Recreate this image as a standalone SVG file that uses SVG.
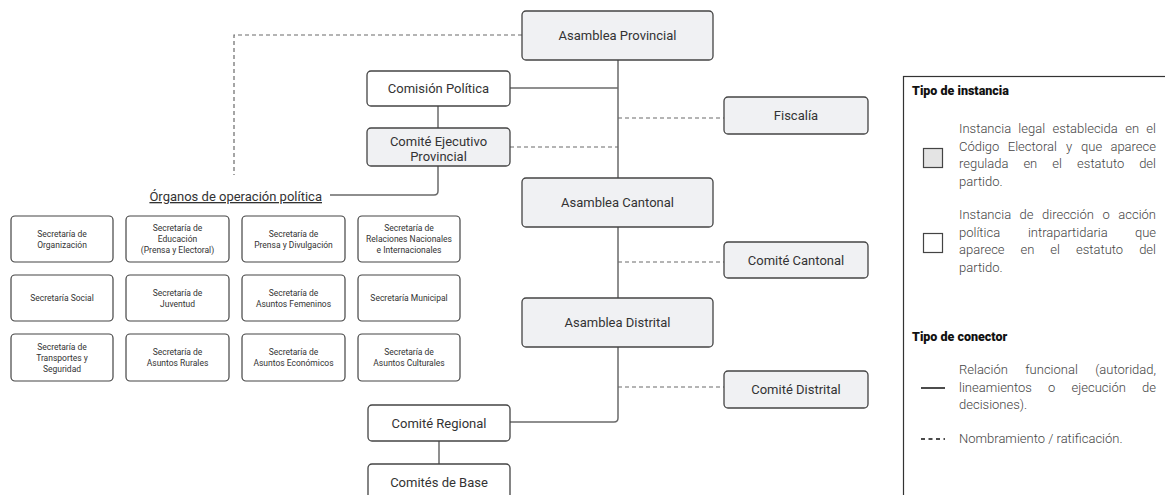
<svg xmlns="http://www.w3.org/2000/svg" width="1165" height="495" viewBox="0 0 1165 495">
<style>
.n rect{stroke:#444;stroke-width:1.3}
.g rect{fill:#f0f1f3}
.w rect{fill:#ffffff}
.n text{font-family:Roboto,"Liberation Sans",sans-serif;font-size:13px;fill:#333;text-anchor:middle}
.s rect{fill:#fff;stroke:#444;stroke-width:1.2}
.s text{font-family:Roboto,"Liberation Sans",sans-serif;font-size:8.5px;fill:#333;text-anchor:middle}
.c path{fill:none;stroke:#6a6a6a;stroke-width:1.5}
.c .d{stroke-dasharray:4 3;stroke-width:1.2}
.lg text{font-family:Roboto,"Liberation Sans",sans-serif;font-size:13px;font-weight:300;fill:#444}
.lg .h{font-weight:900;font-size:12.5px;fill:#111}
.lg .e{text-anchor:end}
.lbl{font-family:Roboto,"Liberation Sans",sans-serif;font-size:13px;fill:#333;text-anchor:end;text-decoration:underline}
</style>
<rect width="1165" height="495" fill="#fff"/>
<g id="connectors" class="c">
<path d="M618 60V178M618 227V298M618 347V418Q618 422 614 422H510"/>
<path d="M510 88H618"/>
<path d="M438 106V128"/>
<path d="M438 166V191Q438 195 434 195H330"/>
<path d="M439 441V464"/>
<path class="d" d="M618 118H724"/>
<path class="d" d="M510 147H618"/>
<path class="d" d="M618 262H724"/>
<path class="d" d="M618 387H724"/>
<path class="d" d="M522 35H234V175"/>
</g>
<g id="asamblea-provincial" class="n g"><rect x="522" y="11" width="191" height="49" rx="4"/><text x="617.5" y="40">Asamblea Provincial</text></g>
<g id="comision-politica" class="n w"><rect x="367" y="71" width="143" height="35" rx="4"/><text x="438.5" y="93">Comisión Política</text></g>
<g id="comite-ejecutivo" class="n g"><rect x="367" y="128" width="143" height="38" rx="4"/><text x="438.5" y="146">Comité Ejecutivo</text><text x="438.5" y="161">Provincial</text></g>
<g id="fiscalia" class="n g"><rect x="724" y="97" width="144" height="37" rx="4"/><text x="796" y="120">Fiscalía</text></g>
<g id="asamblea-cantonal" class="n g"><rect x="522" y="178" width="191" height="49" rx="4"/><text x="617.5" y="207">Asamblea Cantonal</text></g>
<g id="comite-cantonal" class="n g"><rect x="724" y="242" width="144" height="36" rx="4"/><text x="796" y="264.5">Comité Cantonal</text></g>
<g id="asamblea-distrital" class="n g"><rect x="522" y="298" width="191" height="49" rx="4"/><text x="617.5" y="327">Asamblea Distrital</text></g>
<g id="comite-distrital" class="n g"><rect x="724" y="371" width="144" height="37" rx="4"/><text x="796" y="394">Comité Distrital</text></g>
<g id="comite-regional" class="n w"><rect x="368" y="405" width="142" height="36" rx="4"/><text x="439" y="427.5">Comité Regional</text></g>
<g id="comites-base" class="n w"><rect x="368" y="464" width="142" height="40" rx="4"/><text x="439" y="486.5">Comités de Base</text></g>
<g id="organos-label"><text class="lbl" x="322" y="201">Órganos de operación política</text></g>
<g id="secretarias" class="s">
<g id="sec-organizacion"><rect x="11" y="216" width="102" height="46" rx="4"/><text x="62" y="236.5">Secretaría de</text><text x="62" y="247.5">Organización</text></g>
<g id="sec-educacion"><rect x="126" y="216" width="103" height="46" rx="4"/><text x="177.5" y="231">Secretaría de</text><text x="177.5" y="242">Educación</text><text x="177.5" y="253">(Prensa y Electoral)</text></g>
<g id="sec-prensa"><rect x="242" y="216" width="103" height="46" rx="4"/><text x="293.5" y="236.5">Secretaría de</text><text x="293.5" y="247.5">Prensa y Divulgación</text></g>
<g id="sec-relaciones"><rect x="358" y="216" width="102" height="46" rx="4"/><text x="409" y="231">Secretaría de</text><text x="409" y="242">Relaciones Nacionales</text><text x="409" y="253">e Internacionales</text></g>
<g id="sec-social"><rect x="11" y="275" width="102" height="46" rx="4"/><text x="62" y="301">Secretaría Social</text></g>
<g id="sec-juventud"><rect x="126" y="275" width="103" height="46" rx="4"/><text x="177.5" y="295.5">Secretaría de</text><text x="177.5" y="306.5">Juventud</text></g>
<g id="sec-femeninos"><rect x="242" y="275" width="103" height="46" rx="4"/><text x="293.5" y="295.5">Secretaría de</text><text x="293.5" y="306.5">Asuntos Femeninos</text></g>
<g id="sec-municipal"><rect x="358" y="275" width="102" height="46" rx="4"/><text x="409" y="301">Secretaría Municipal</text></g>
<g id="sec-transportes"><rect x="11" y="334" width="102" height="47" rx="4"/><text x="62" y="349.5">Secretaría de</text><text x="62" y="360.5">Transportes y</text><text x="62" y="371.5">Seguridad</text></g>
<g id="sec-rurales"><rect x="126" y="334" width="103" height="47" rx="4"/><text x="177.5" y="355">Secretaría de</text><text x="177.5" y="366">Asuntos Rurales</text></g>
<g id="sec-economicos"><rect x="242" y="334" width="103" height="47" rx="4"/><text x="293.5" y="355">Secretaría de</text><text x="293.5" y="366">Asuntos Económicos</text></g>
<g id="sec-culturales"><rect x="358" y="334" width="102" height="47" rx="4"/><text x="409" y="355">Secretaría de</text><text x="409" y="366">Asuntos Culturales</text></g>
</g>
<g id="legend" class="lg">
<rect x="903.5" y="76.5" width="300" height="500" fill="#fff" stroke="#333" stroke-width="1.2"/>
<text class="h" x="912" y="95">Tipo de instancia</text>
<rect x="923.5" y="148.5" width="19" height="19" fill="#e4e4e4" stroke="#444" stroke-width="1.2"/>
<text x="959" y="133">Instancia</text><text x="1018.3" y="133">legal</text><text x="1052.6" y="133">establecida</text><text x="1125.2" y="133">en</text><text class="e" x="1156" y="133">el</text>
<text x="959" y="150.5">Código</text><text x="1007.8" y="150.5">Electoral</text><text x="1066.1" y="150.5">y</text><text x="1081" y="150.5">que</text><text class="e" x="1156" y="150.5">aparece</text>
<text x="959" y="168">regulada</text><text x="1023.4" y="168">en</text><text x="1052.2" y="168">el</text><text x="1077.1" y="168">estatuto</text><text class="e" x="1156" y="168">del</text>
<text x="959" y="185.5">partido.</text>
<rect x="923.5" y="233.5" width="19" height="19" fill="#fff" stroke="#444" stroke-width="1.2"/>
<text x="959" y="219">Instancia</text><text x="1019.5" y="219">de</text><text x="1042" y="219">dirección</text><text x="1102.6" y="219">o</text><text class="e" x="1156" y="219">acción</text>
<text x="959" y="236.5">política</text><text x="1027.9" y="236.5">intrapartidaria</text><text class="e" x="1156" y="236.5">que</text>
<text x="959" y="254">aparece</text><text x="1020.5" y="254">en</text><text x="1050.2" y="254">el</text><text x="1076" y="254">estatuto</text><text class="e" x="1156" y="254">del</text>
<text x="959" y="271.5">partido.</text>
<text class="h" x="912" y="341">Tipo de conector</text>
<path d="M921 388H945" stroke="#111" stroke-width="1.5"/>
<text x="959" y="374">Relación</text><text x="1025.3" y="374">funcional</text><text class="e" x="1156" y="374">(autoridad,</text>
<text x="959" y="391.5">lineamientos</text><text x="1048.1" y="391.5">o</text><text x="1071.6" y="391.5">ejecución</text><text class="e" x="1156" y="391.5">de</text>
<text x="959" y="409">decisiones).</text>
<path d="M921 439H945" stroke="#111" stroke-width="1.5" stroke-dasharray="4 3.5"/>
<text x="959" y="443">Nombramiento / ratificación.</text>
</g>
</svg>
